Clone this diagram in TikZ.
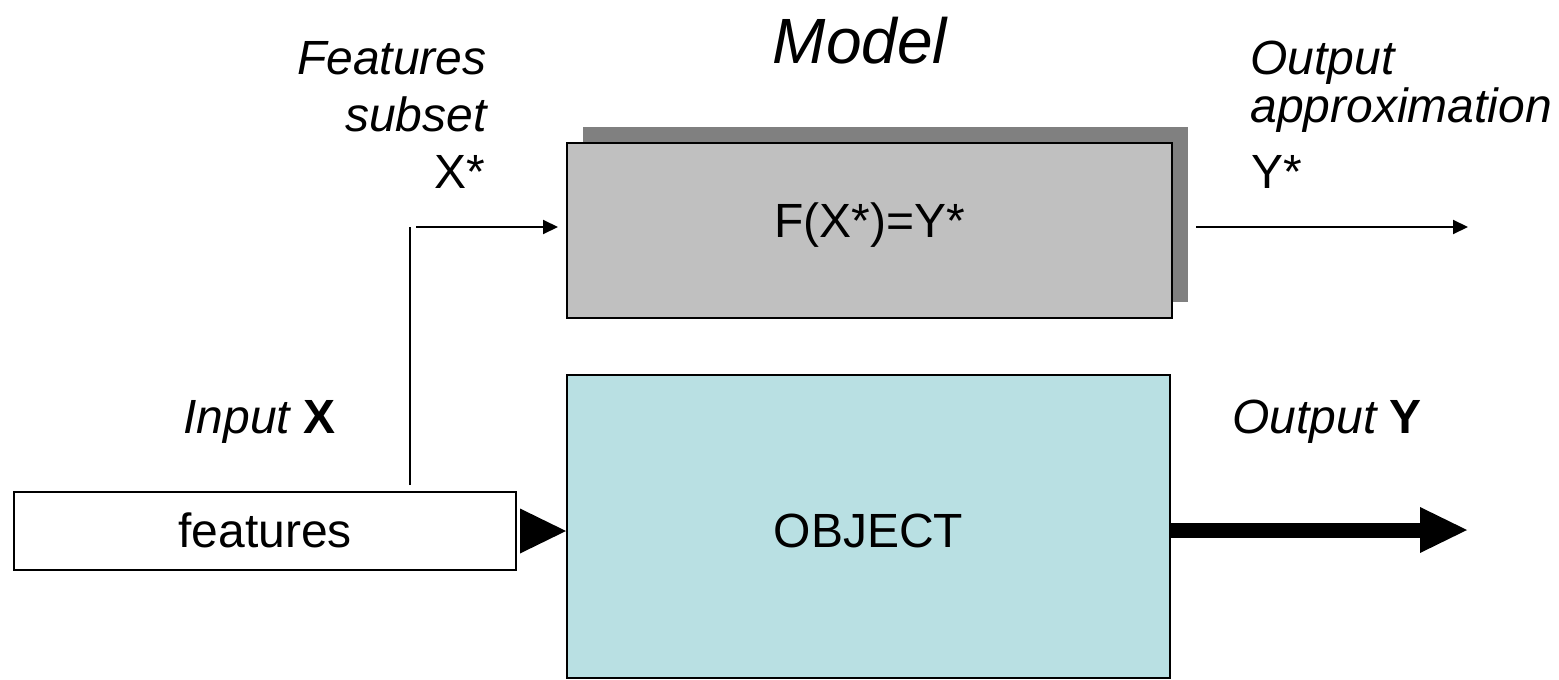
\documentclass[tikz,border=0pt]{standalone}
\usepackage{fontspec}
\setmainfont{Liberation Sans}
\usetikzlibrary{arrows.meta}
\definecolor{shadowgray}{RGB}{128,128,128}
\definecolor{modelgray}{RGB}{192,192,192}
\definecolor{objcyan}{RGB}{185,224,227}
\begin{document}
\begin{tikzpicture}[x=0.5pt,y=-0.5pt,
  txt/.style={inner sep=0pt,font=\fontsize{24}{24}\selectfont},
  bigtxt/.style={inner sep=0pt,font=\fontsize{32}{32}\selectfont\itshape},
  boxstyle/.style={draw=black,line width=1pt,inner sep=0pt,font=\fontsize{24}{24}\selectfont},
  thinarrow/.style={line width=1pt,-{Triangle[length=7.5pt,width=7pt]}},
  thinline/.style={line width=1pt}
]
\useasboundingbox (0,0) rectangle (1559,680);
% shadow + model box
\node[fill=shadowgray,minimum width=302.5pt,minimum height=87.5pt,inner sep=0pt] (shadow) at (885.5,214.5) {};
\node[boxstyle,fill=modelgray,minimum width=302.5pt,minimum height=87.5pt] (model) at (869.5,230.5) {};
\node[txt,anchor=base] (ftxt) at (869.5,237) {F(X*)=Y*};
% object box
\node[boxstyle,fill=objcyan,minimum width=301.5pt,minimum height=151.5pt] (obj) at (868.5,526.5) {};
\node[txt,anchor=base] (otxt) at (868.5,547) {OBJECT};
% features box
\node[boxstyle,fill=white,minimum width=251pt,minimum height=39pt] (feat) at (265,531) {};
\node[txt,anchor=base] (fetxt) at (265,547) {features};
% labels
\node[bigtxt,anchor=base] (modellbl) at (860,63) {Model};
\node[txt,anchor=base east] (fs1) at (487,74) {\itshape Features};
\node[txt,anchor=base east] (fs2) at (487,131) {\itshape subset};
\node[txt,anchor=base east] (fs3) at (486,188) {X*};
\node[txt,anchor=base west] (oa1) at (1250,75) {\itshape Output};
\node[txt,anchor=base west] (oa2) at (1250,122) {\itshape approximation};
\node[txt,anchor=base west] (oa3) at (1251,188) {Y*};
\node[txt,anchor=base west] (inx) at (183,433) {\itshape Input \bfseries\upshape X};
\node[txt,anchor=base west] (outy) at (1232,433) {\itshape Output \bfseries\upshape Y};
% connectors
\coordinate (v1) at (410,485);
\coordinate (v2) at (410,227);
\coordinate (h1) at (416,227);
\coordinate (ystart) at (1196,227);
\coordinate (yend) at (1468,227);
\coordinate (bigend) at (1467,530);
\draw[thinline] (v1) -- (v2);
\draw[thinarrow,shorten >=4pt] (h1) -- (model.west |- h1);
\draw[thinarrow] (ystart) -- (yend);
\draw[line width=0.1pt,shorten <=2.5pt,-{Triangle[length=23pt,width=22.5pt,line width=0pt]}] (feat.east) -- (obj.west |- feat.east);
\draw[line width=7.5pt,-{Triangle[length=23.5pt,width=23pt,line width=0pt]}] (obj.east |- bigend) -- (bigend);
\end{tikzpicture}
\end{document}
